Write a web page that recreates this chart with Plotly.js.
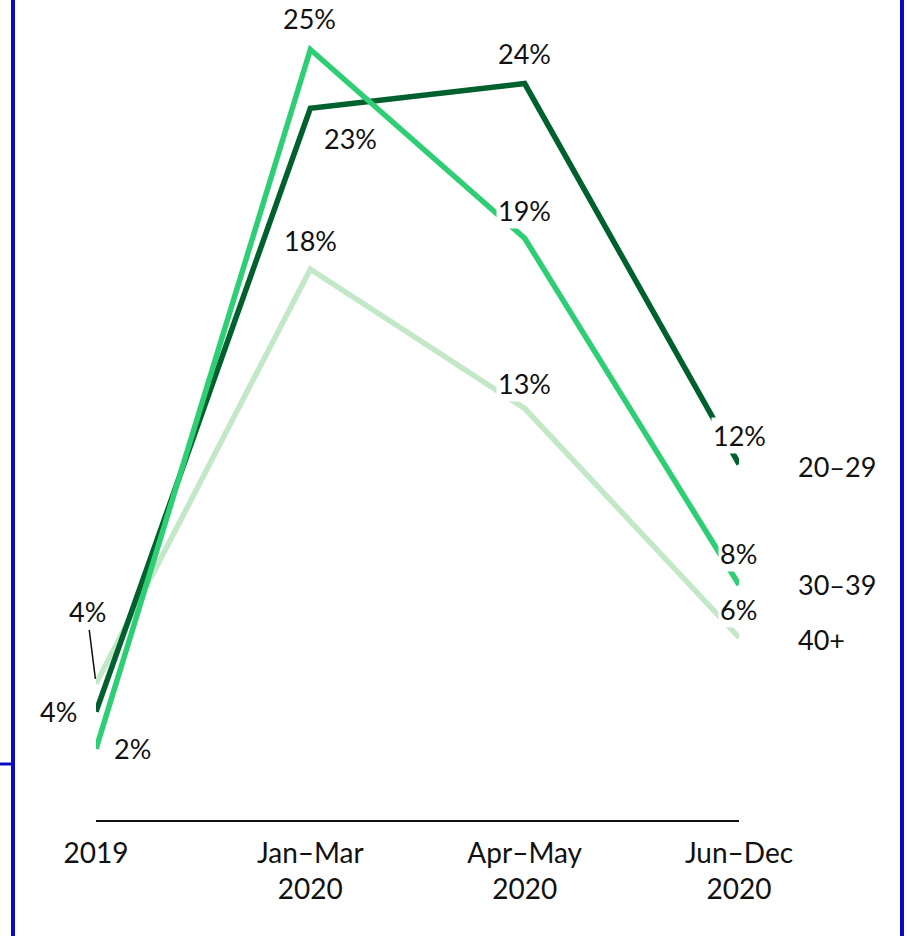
<!DOCTYPE html>
<html>
<head>
<meta charset="utf-8">
<script src="https://cdn.plot.ly/plotly-3.0.1.min.js"></script>
<style>html,body{margin:0;padding:0;background:#fff;}#chart{width:907px;height:936px;}</style>
</head>
<body>
<div id="chart"></div>
<script>
const categories = ["2019", "Jan–Mar<br>2020", "Apr–May<br>2020", "Jun–Dec<br>2020"];
const seriesNames = ["20–29", "30–39", "40+"];
const age2029 = [3.5, 23.0, 23.8, 11.5];
const age3039 = [2.3, 24.9, 18.8, 7.6];
const age40 = [4.4, 17.8, 13.3, 5.9];
const labels2029 = ["4%", "23%", "24%", "12%"];
const labels3039 = ["2%", "25%", "19%", "8%"];
const labels40 = ["4%", "18%", "13%", "6%"];

const colors = ["#00602e", "#2ecf74", "#c3e8c8"];
const xs = [0, 1, 2, 3];
const FONT = "Lato, 'Liberation Sans', sans-serif";
const FS = 27;
const series = [age2029, age3039, age40];

const traces = series.map((ys, i) => ({
  type: "scatter", mode: "lines", x: xs, y: ys, name: seriesNames[i],
  line: {color: colors[i], width: 5.5, shape: "linear"},
  hoverinfo: "skip", showlegend: false
}));
// draw order: light first, then dark, then mid on top
const data = [traces[2], traces[0], traces[1]];

function lab(x, y, text, xshift, yshift, bg) {
  return {x: x, y: y, xref: "x", yref: "y", text: text, showarrow: false,
    xshift: xshift, yshift: yshift, bgcolor: bg ? "#ffffff" : "rgba(0,0,0,0)",
    borderpad: 1, font: {family: FONT, size: FS, color: "#111"}};
}
const annotations = [
  // 20–29
  lab(0, age2029[0], labels2029[0], -38, 0, false),
  lab(1, age2029[1], labels2029[1], 40, -30, false),
  lab(2, age2029[2], labels2029[2], 0, 30, false),
  lab(3, age2029[3], labels2029[3], 0, 29, true),
  // 30–39
  lab(0, age3039[0], labels3039[0], 36, 0, false),
  lab(1, age3039[1], labels3039[1], -1, 31, false),
  lab(2, age3039[2], labels3039[2], 0, 28, true),
  lab(3, age3039[3], labels3039[3], -1, 31, true),
  // 40+
  lab(1, age40[1], labels40[1], 0, 29, false),
  lab(2, age40[2], labels40[2], 0, 25, true),
  lab(3, age40[3], labels40[3], -1, 28, true),
  {x: 0, y: age40[0], xref: "x", yref: "y", text: labels40[0], showarrow: true,
   arrowhead: 0, arrowwidth: 1.5, arrowcolor: "#111", ax: -9, ay: -72, standoff: 5,
   font: {family: FONT, size: FS, color: "#111"}},
  // series names
  {x: 3, y: age2029[3], xref: "x", yref: "y", text: seriesNames[0], showarrow: false, xanchor: "left", xshift: 57, yshift: -2, font: {family: FONT, size: FS, color: "#111"}},
  {x: 3, y: age3039[3], xref: "x", yref: "y", text: seriesNames[1], showarrow: false, xanchor: "left", xshift: 57, yshift: 0, font: {family: FONT, size: FS, color: "#111"}},
  {x: 3, y: age40[3], xref: "x", yref: "y", text: seriesNames[2], showarrow: false, xanchor: "left", xshift: 57, yshift: -2, font: {family: FONT, size: FS, color: "#111"}}
];

const W = 907, H = 936, L = 96, R = 168, T = 0, B = 116;
const pw = W - L - R, ph = H - T - B;
function px(x) { return (x - L) / pw; }
function py(y) { return (H - B - y) / ph; }
const blue = "#0a0ac4";
const shapes = [
  {type: "line", xref: "paper", yref: "paper", x0: px(13), x1: px(13), y0: py(-5), y1: py(941), line: {color: blue, width: 4}},
  {type: "line", xref: "paper", yref: "paper", x0: px(902), x1: px(902), y0: py(-5), y1: py(941), line: {color: blue, width: 4}},
  {type: "line", xref: "paper", yref: "paper", x0: px(-5), x1: px(13), y0: py(764), y1: py(764), line: {color: blue, width: 3}}
];

const layout = {
  width: W, height: H,
  margin: {l: L, r: R, t: T, b: B, pad: 0},
  paper_bgcolor: "#ffffff", plot_bgcolor: "#ffffff",
  showlegend: false,
  font: {family: FONT, size: FS, color: "#111"},
  xaxis: {range: [0, 3], tickvals: xs, ticktext: categories, showgrid: false, zeroline: false,
    showline: true, linecolor: "#111", linewidth: 2, ticks: "", ticklabelstandoff: 7,
    tickfont: {family: FONT, size: 28, color: "#111"}, fixedrange: true},
  yaxis: {range: [0, 26.5], visible: false, showgrid: false, zeroline: false, fixedrange: true},
  annotations: annotations,
  shapes: shapes
};

Plotly.newPlot("chart", data, layout, {displayModeBar: false, staticPlot: true});
</script>
</body>
</html>
